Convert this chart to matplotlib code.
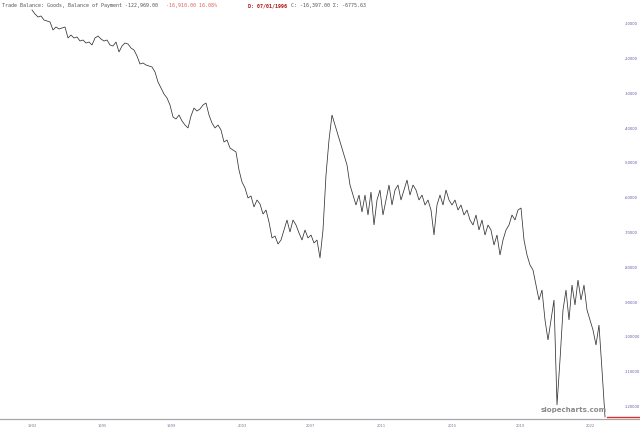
import matplotlib
matplotlib.use("Agg")
import matplotlib.pyplot as plt
import matplotlib.transforms as mtransforms
from matplotlib.lines import Line2D

# Trade Balance: Goods, Balance of Payment (observation index -> value)
values = [
    -6030, -7180, -8050, -7760, -8910, -9200, -9480, -11780, -10920, -11490,
    -11210, -10920, -14080, -13220, -14080, -13790, -14940, -14660, -15520, -15230,
    -16090, -14080, -13510, -14370, -14940, -14660, -16090, -16380, -15230, -18100,
    -16380, -15520, -15800, -16950, -17530, -19250, -21550, -21260, -21840, -22130,
    -22410, -23850, -26720, -28450, -30170, -31320, -33330, -36780, -37360, -36210,
    -37930, -39080, -39940, -36490, -34200, -35060, -34480, -33330, -32760, -36210,
    -38510, -39940, -39080, -40520, -43970, -43390, -45690, -46260, -46840, -52010,
    -55460, -57180, -60060, -59480, -62640, -60630, -61780, -64660, -63510, -66950,
    -71550, -70980, -73280, -72130, -69250, -66380, -69830, -66380, -67820, -70110,
    -72130, -69250, -71550, -70690, -72990, -72130, -77300, -69250, -53450, -43390,
    -36210, -39080, -41950, -44830, -47700, -50570, -56320, -59200, -62070, -59200,
    -64080, -59200, -64940, -58330, -67820, -60630, -57760, -64940, -60630, -56320,
    -62070, -57760, -56320, -60630, -57760, -54890, -59200, -56320, -57760, -60630,
    -59200, -62070, -60630, -63510, -70690, -62070, -59200, -62070, -57760, -60630,
    -62070, -60630, -63510, -62070, -64940, -63510, -66380, -67820, -64940, -69250,
    -66380, -70690, -67820, -69250, -73560, -70690, -76440, -72130, -69250, -67820,
    -64940, -66380, -63510, -62930, -72130, -76440, -79310, -80750, -85060, -89370,
    -86490, -95110, -100860, -95110, -89370, -119540, -106610, -92240, -86490, -95110,
    -85060, -90800, -83620, -89370, -85060, -92240, -95110, -97990, -102300, -96550,
    -109480, -122969,
]
obs = list(range(len(values)))

tick_obs = [0, 23.3, 46.3, 70, 92.7, 116.3, 140, 162.7, 186]
tick_labels = ["1992", "1995", "1999", "2003", "2007", "2011", "2015", "2019", "2022"]
y_ticks = [-10000, -20000, -30000, -40000, -50000, -60000, -70000, -80000,
           -90000, -100000, -110000, -120000]

last_value = values[-1]

W, H = 640, 433
fig = plt.figure(figsize=(W / 100, H / 100), dpi=100)
fig.patch.set_facecolor("white")
ax = fig.add_axes([0, 1 - 418 / H, 607 / W, 418 / H])
ax.set_facecolor("white")

ax.plot(obs, values, color="#333333", lw=0.55, solid_joinstyle="miter")

ax.set_xlim(-10.667, 191.667)
ax.set_ylim(-123276, -3161)

for s in ["left", "right", "top", "bottom"]:
    ax.spines[s].set_visible(False)

ax.yaxis.tick_right()
ax.set_yticks(y_ticks)
ax.set_yticklabels([str(v) for v in y_ticks])
ax.tick_params(axis="y", length=0, pad=13, labelsize=2.6, labelcolor="#5a5aa8")
ax.set_xticks(tick_obs)
ax.set_xticklabels(tick_labels)
ax.tick_params(axis="x", length=0, pad=4, labelsize=2.6, labelcolor="#7a7a9a")

# bottom border across full width
fig.add_artist(Line2D([0, 1], [1 - 418.5 / H, 1 - 418.5 / H], transform=fig.transFigure,
                      color="#a8a8a8", lw=0.9))

# last value marker line on right axis
trans = mtransforms.blended_transform_factory(fig.transFigure, ax.transData)
ax.add_artist(Line2D([607 / W, 1.0], [last_value, last_value], transform=trans,
                     color="#e03030", lw=1.0, clip_on=False))

# header text
fy = 1 - 5.5 / H
mono = "DejaVu Sans Mono"
fs = 3.6
fig.text(2 / W, fy, "Trade Balance: Goods, Balance of Payment -122,969.00",
         family=mono, fontsize=fs, color="#555555", va="center", ha="left")
fig.text(166 / W, fy, "-16,910.00 16.08%", family=mono, fontsize=fs,
         color="#e06060", va="center", ha="left")
fig.text(248 / W, fy, "D: 07/01/1996", family=mono, fontsize=fs,
         color="#b01010", weight="bold", va="center", ha="left")
fig.text(291 / W, fy, "C: -16,397.00 \u03a3: -6775.63", family=mono, fontsize=fs,
         color="#555555", va="center", ha="left")

# watermark
fig.text(607 / W, 1 - 410 / H, "slopecharts.com", fontsize=5.1, weight="bold",
         color="#8a8a8a", ha="right", va="center")

fig.savefig("out.png", dpi=100, facecolor="white")
